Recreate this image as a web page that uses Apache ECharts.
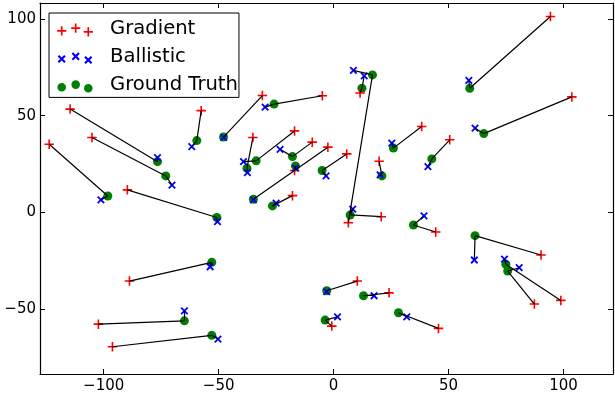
<!DOCTYPE html>
<html><head><meta charset="utf-8">
<script src="https://cdn.jsdelivr.net/npm/echarts@6/dist/echarts.min.js"></script>
<style>html,body{margin:0;padding:0;background:#fff}#c{width:615px;height:396px}</style>
</head><body><div id="c"></div>
<script>
// ---- data ----
const seriesNames = ['Gradient', 'Ballistic', 'Ground Truth'];
const xTicks = [-100, -50, 0, 50, 100];
const yTicks = [-50, 0, 50, 100];

const groundTruth = [
  [59.2, 64.2], [65.3, 40.7], [26.0, 33.2], [42.7, 27.6], [21.0, 18.8],
  [16.9, 71.1], [12.3, 64.2], [7.2, -1.4], [-25.9, 56.0], [-47.9, 38.9],
  [-33.7, 26.6], [-37.7, 22.8], [-17.9, 28.8], [-34.9, 6.7], [-16.6, 24.0],
  [-26.6, 3.3], [-5.0, 21.6], [-50.8, -2.7], [-59.5, 37.1], [-76.6, 26.2],
  [-73.0, 18.8], [-98.2, 8.4], [-53.0, -25.9], [-64.9, -56.2], [-53.0, -63.7],
  [-3.0, -40.6], [13.0, -43.2], [-3.7, -55.8], [28.2, -52.0], [34.7, -6.6],
  [61.5, -12.1], [74.9, -26.9], [75.7, -30.4]
];
const gradient = [
  [94.3, 101.3], [103.6, 59.7], [38.3, 44.4], [50.5, 37.5], [19.8, 26.4],
  [6.4, -5.4], [11.5, 61.7], [20.7, -2.3], [-4.9, 60.3], [-31.0, 60.4],
  [-17.0, 42.1], [-35.1, 38.7], [-9.3, 36.3], [-2.5, 33.7], [-17.0, 21.6],
  [-17.9, 8.6], [5.7, 30.2], [-89.7, 11.6], [-57.6, 52.6], [-114.6, 53.4],
  [-105.1, 38.7], [-123.7, 35.2], [-88.8, -35.6], [-102.3, -57.9], [-96.2, -69.6],
  [10.3, -35.6], [24.1, -41.7], [-0.8, -58.9], [45.6, -60.1], [44.4, -10.2],
  [90.2, -22.1], [98.8, -45.6], [87.3, -47.5]
];
const ballistic = [
  [58.8, 68.2], [61.5, 43.5], [25.3, 35.8], [41.0, 23.6], [20.2, 19.3],
  [8.6, 73.4], [13.3, 70.6], [8.3, 1.6], [-29.8, 54.4], [-47.8, 38.8],
  [-39.2, 26.2], [-37.5, 20.5], [-23.3, 32.6], [-34.9, 6.4], [-16.6, 22.8],
  [-25.0, 4.7], [-3.3, 18.8], [-50.5, -4.9], [-61.7, 34.0], [-76.6, 28.3],
  [-70.3, 14.1], [-101.2, 6.4], [-53.7, -28.2], [-64.9, -51.0], [-50.3, -65.6],
  [-3.0, -41.1], [17.6, -43.2], [1.7, -54.1], [31.8, -54.1], [39.3, -1.9],
  [61.2, -24.7], [74.3, -24.2], [80.7, -28.7]
];

// ---- legend icon helpers (style only) ----
const ICON_W = 48, ICON_H = 16;
const iconXs = [4.7, 18.7, 31.3], iconYs = [9.8, 7.2, 10.8];
function f(v) { return (+v).toFixed(2); }
function anchors() {
  return `M0,0L0.001,0M${ICON_W},${ICON_H}L${ICON_W - 0.001},${ICON_H}`;
}
function plusShape(cx, cy) {
  const a = 4.6, t = 0.85;
  return `M${f(cx-a)},${f(cy-t)}L${f(cx+a)},${f(cy-t)}L${f(cx+a)},${f(cy+t)}L${f(cx-a)},${f(cy+t)}Z` +
         `M${f(cx-t)},${f(cy-a)}L${f(cx+t)},${f(cy-a)}L${f(cx+t)},${f(cy+a)}L${f(cx-t)},${f(cy+a)}Z`;
}
function xShape(cx, cy) {
  const s = 3.3, d = 0.75;
  return `M${f(cx-s+d)},${f(cy-s-d)}L${f(cx+s+d)},${f(cy+s-d)}L${f(cx+s-d)},${f(cy+s+d)}L${f(cx-s-d)},${f(cy-s+d)}Z` +
         `M${f(cx-s-d)},${f(cy+s-d)}L${f(cx+s-d)},${f(cy-s-d)}L${f(cx+s+d)},${f(cy-s+d)}L${f(cx-s+d)},${f(cy+s+d)}Z`;
}
function circleShape(cx, cy) {
  const r = 4.3;
  return `M${f(cx-r)},${f(cy)}A${r},${r} 0 1 0 ${f(cx+r)},${f(cy)}A${r},${r} 0 1 0 ${f(cx-r)},${f(cy)}Z`;
}
function icon(shape) {
  return 'path://' + anchors() + iconXs.map((x, i) => shape(x, iconYs[i])).join('');
}

const RED = '#ff0000', BLUE = '#0000ff', GREEN = '#008000';
const FONT = 'DejaVu Sans';
const minusFmt = v => String(v).replace('-', '\u2212');

const lineData = [];
groundTruth.forEach((g, i) => {
  lineData.push({ coords: [g, gradient[i]] });
  lineData.push({ coords: [g, ballistic[i]] });
});

const X_MIN = -127.7, X_MAX = 121.5, Y_MIN = -83.7, Y_MAX = 108.3;

function xAxisCfg(pos, showLabel) {
  return {
    type: 'value', position: pos, min: X_MIN, max: X_MAX,
    axisLine: { show: true, onZero: false, lineStyle: { color: '#000', width: 1.2 } },
    axisTick: { show: true, inside: true, length: 5, customValues: xTicks, lineStyle: { color: '#000', width: 1 } },
    axisLabel: { show: showLabel, customValues: xTicks, formatter: minusFmt, color: '#000', fontSize: 15, fontFamily: FONT, margin: 5 },
    splitLine: { show: false }
  };
}
function yAxisCfg(pos, showLabel) {
  return {
    type: 'value', position: pos, min: Y_MIN, max: Y_MAX,
    axisLine: { show: true, onZero: false, lineStyle: { color: '#000', width: 1.2 } },
    axisTick: { show: true, inside: true, length: 5, customValues: yTicks, lineStyle: { color: '#000', width: 1 } },
    axisLabel: { show: showLabel, customValues: yTicks, formatter: minusFmt, color: '#000', fontSize: 15, fontFamily: FONT, margin: 4 },
    splitLine: { show: false }
  };
}

const chart = echarts.init(document.getElementById('c'), null, { renderer: 'canvas' });
chart.setOption({
  animation: false,
  backgroundColor: '#fff',
  grid: { left: 40, right: 2, top: 3, bottom: 22, containLabel: false },
  xAxis: [xAxisCfg('bottom', true), xAxisCfg('top', false)],
  yAxis: [yAxisCfg('left', true), yAxisCfg('right', false)],
  legend: {
    orient: 'vertical', left: 49, top: 13,
    padding: [6, 1, 2, 8], itemGap: 8.2,
    itemWidth: ICON_W, itemHeight: ICON_H,
    borderColor: '#000', borderWidth: 1, backgroundColor: '#fff',
    selectedMode: false,
    textStyle: { fontSize: 19.6, fontFamily: FONT, color: '#000' },
    data: [
      { name: seriesNames[0], icon: icon(plusShape), itemStyle: { color: RED, borderWidth: 0 } },
      { name: seriesNames[1], icon: icon(xShape), itemStyle: { color: BLUE, borderWidth: 0 } },
      { name: seriesNames[2], icon: icon(circleShape), itemStyle: { color: GREEN, borderWidth: 0 } }
    ]
  },
  series: [
    {
      name: seriesNames[2], type: 'scatter', data: groundTruth, z: 2, silent: true,
      symbol: 'circle', symbolSize: 9,
      itemStyle: { color: GREEN, borderWidth: 0, opacity: 1 }
    },
    {
      name: seriesNames[0], type: 'scatter', data: gradient, z: 3, silent: true,
      symbol: 'path://M0,5L10,5M5,0L5,10', symbolSize: 9.5,
      itemStyle: { color: RED, borderColor: RED, borderWidth: 1.6, opacity: 1 }
    },
    {
      name: seriesNames[1], type: 'scatter', data: ballistic, z: 4, silent: true,
      symbol: 'path://M0,0L10,10M0,10L10,0', symbolSize: 6.5,
      itemStyle: { color: BLUE, borderColor: BLUE, borderWidth: 1.8, opacity: 1 }
    },
    {
      name: 'links', type: 'lines', coordinateSystem: 'cartesian2d', z: 5, silent: true,
      data: lineData,
      lineStyle: { color: '#000', width: 1.2, opacity: 1, curveness: 0 }
    }
  ]
});
</script>
</body></html>
